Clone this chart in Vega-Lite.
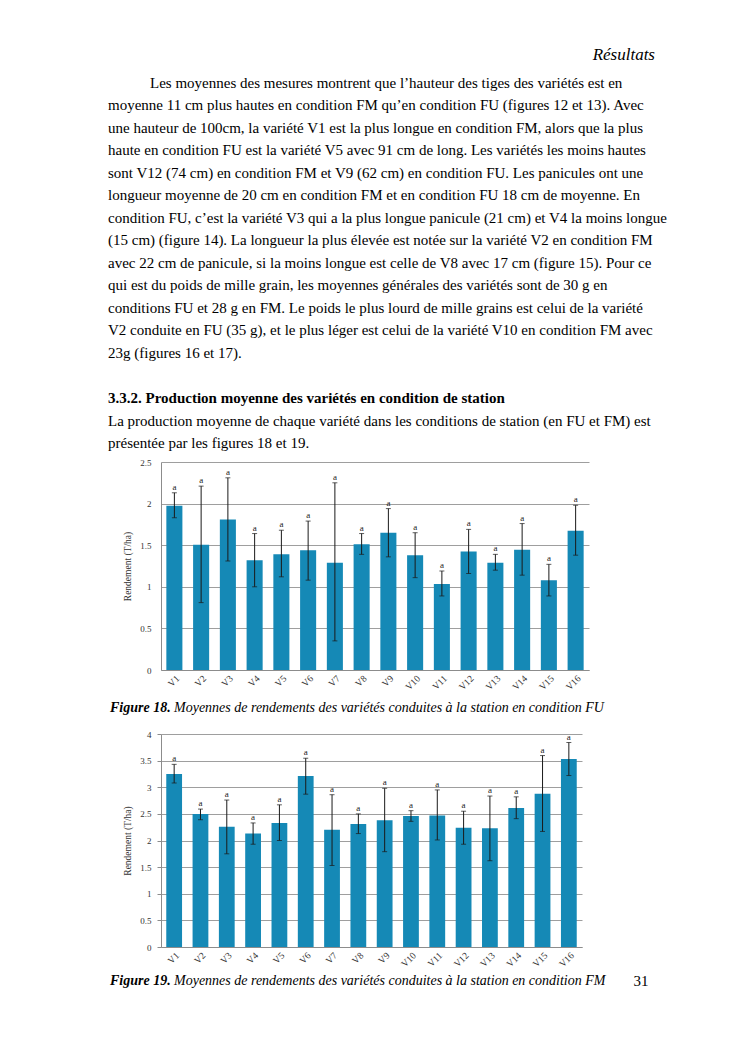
{
  "$schema": "https://vega.github.io/schema/vega-lite/v6.json",
  "padding": {"left": 108, "top": 40, "right": 20, "bottom": 20},
  "background": "white",
  "bounds": "flush",
  "spacing": 64,
  "config": {
    "view": {"stroke": null},
    "font": "Liberation Serif",
    "axis": {
      "labelFont": "Liberation Serif",
      "titleFont": "Liberation Serif",
      "labelFontSize": 9,
      "titleFontSize": 9.5,
      "titleFontWeight": "normal",
      "labelColor": "#333333",
      "titleColor": "#333333",
      "gridColor": "#9e9e9e",
      "domainColor": "#8c8c8c",
      "tickColor": "#8c8c8c",
      "labelOverlap": false
    }
  },
  "datasets": {
    "page": [
      {"line": 0, "kind": "header", "text": "Résultats"},
      {"line": 1, "kind": "indent", "text": "Les moyennes des mesures montrent que l’hauteur des tiges des variétés est en"},
      {"line": 2, "kind": "body", "text": "moyenne 11 cm plus hautes en condition FM qu’en condition FU (figures 12 et 13). Avec"},
      {"line": 3, "kind": "body", "text": "une hauteur de 100cm, la variété V1 est la plus longue en condition FM, alors que la plus"},
      {"line": 4, "kind": "body", "text": "haute en condition FU est la variété V5 avec 91 cm de long. Les variétés les moins hautes"},
      {"line": 5, "kind": "body", "text": "sont V12 (74 cm) en condition FM et V9 (62 cm) en condition FU. Les panicules ont une"},
      {"line": 6, "kind": "body", "text": "longueur moyenne de 20 cm en condition FM et en condition FU 18 cm de moyenne. En"},
      {"line": 7, "kind": "body", "text": "condition FU, c’est la variété V3 qui a la plus longue panicule (21 cm) et V4 la moins longue"},
      {"line": 8, "kind": "body", "text": "(15 cm) (figure 14). La longueur la plus élevée est notée sur la variété V2 en condition FM"},
      {"line": 9, "kind": "body", "text": "avec 22 cm de panicule, si la moins longue est celle de V8 avec 17 cm (figure 15). Pour ce"},
      {"line": 10, "kind": "body", "text": "qui est du poids de mille grain, les moyennes générales des variétés sont de 30 g en"},
      {"line": 11, "kind": "body", "text": "conditions FU et 28 g en FM. Le poids le plus lourd de mille grains est celui de la variété"},
      {"line": 12, "kind": "body", "text": "V2 conduite en FU (35 g), et le plus léger est celui de la variété V10 en condition FM avec"},
      {"line": 13, "kind": "body", "text": "23g (figures 16 et 17)."},
      {"line": 15, "kind": "heading", "text": "3.3.2. Production moyenne des variétés en condition de station"},
      {"line": 16, "kind": "body", "text": "La production moyenne de chaque variété dans les conditions de station (en FU et FM) est"},
      {"line": 17, "kind": "body", "text": "présentée par les figures 18 et 19."}
    ],
    "fu": [
      {"v": "V1", "mean": 1.975, "lo": 1.83, "hi": 2.13, "grp": "a"},
      {"v": "V2", "mean": 1.505, "lo": 0.81, "hi": 2.21, "grp": "a"},
      {"v": "V3", "mean": 1.81, "lo": 1.31, "hi": 2.31, "grp": "a"},
      {"v": "V4", "mean": 1.32, "lo": 1.0, "hi": 1.64, "grp": "a"},
      {"v": "V5", "mean": 1.39, "lo": 1.12, "hi": 1.68, "grp": "a"},
      {"v": "V6", "mean": 1.44, "lo": 1.08, "hi": 1.79, "grp": "a"},
      {"v": "V7", "mean": 1.29, "lo": 0.35, "hi": 2.25, "grp": "a"},
      {"v": "V8", "mean": 1.51, "lo": 1.39, "hi": 1.64, "grp": "a"},
      {"v": "V9", "mean": 1.65, "lo": 1.36, "hi": 1.94, "grp": "a"},
      {"v": "V10", "mean": 1.38, "lo": 1.11, "hi": 1.65, "grp": "a"},
      {"v": "V11", "mean": 1.035, "lo": 0.89, "hi": 1.19, "grp": "a"},
      {"v": "V12", "mean": 1.425, "lo": 1.16, "hi": 1.69, "grp": "a"},
      {"v": "V13", "mean": 1.29, "lo": 1.2, "hi": 1.39, "grp": "a"},
      {"v": "V14", "mean": 1.445, "lo": 1.14, "hi": 1.76, "grp": "a"},
      {"v": "V15", "mean": 1.08, "lo": 0.89, "hi": 1.27, "grp": "a"},
      {"v": "V16", "mean": 1.675, "lo": 1.38, "hi": 1.98, "grp": "a"}
    ],
    "fm": [
      {"v": "V1", "mean": 3.25, "lo": 3.08, "hi": 3.43, "grp": "a"},
      {"v": "V2", "mean": 2.5, "lo": 2.39, "hi": 2.59, "grp": "a"},
      {"v": "V3", "mean": 2.26, "lo": 1.75, "hi": 2.76, "grp": "a"},
      {"v": "V4", "mean": 2.13, "lo": 1.93, "hi": 2.33, "grp": "a"},
      {"v": "V5", "mean": 2.33, "lo": 2.0, "hi": 2.67, "grp": "a"},
      {"v": "V6", "mean": 3.21, "lo": 2.87, "hi": 3.545, "grp": "a"},
      {"v": "V7", "mean": 2.2, "lo": 1.53, "hi": 2.86, "grp": "a"},
      {"v": "V8", "mean": 2.31, "lo": 2.13, "hi": 2.5, "grp": "a"},
      {"v": "V9", "mean": 2.38, "lo": 1.79, "hi": 2.98, "grp": "a"},
      {"v": "V10", "mean": 2.46, "lo": 2.36, "hi": 2.56, "grp": "a"},
      {"v": "V11", "mean": 2.47, "lo": 2.01, "hi": 2.95, "grp": "a"},
      {"v": "V12", "mean": 2.24, "lo": 1.93, "hi": 2.55, "grp": "a"},
      {"v": "V13", "mean": 2.23, "lo": 1.62, "hi": 2.835, "grp": "a"},
      {"v": "V14", "mean": 2.61, "lo": 2.41, "hi": 2.82, "grp": "a"},
      {"v": "V15", "mean": 2.88, "lo": 2.17, "hi": 3.595, "grp": "a"},
      {"v": "V16", "mean": 3.53, "lo": 3.22, "hi": 3.84, "grp": "a"}
    ]
  },
  "vconcat": [
    {
      "width": 494,
      "height": 358,
      "data": {"name": "page"},
      "encoding": {
        "y": {"field": "line", "type": "quantitative", "scale": {"domain": [-0.911, 15.0], "reverse": true, "nice": false, "zero": false}, "axis": null},
        "text": {"field": "text"}
      },
      "layer": [
        {"transform": [{"filter": "datum.kind == 'header'"}], "mark": {"type": "text", "x": "width", "align": "right", "baseline": "middle", "dy": -5.5, "fontSize": 17, "fontStyle": "italic", "font": "Liberation Serif", "color": "#000000"}},
        {"transform": [{"filter": "datum.kind == 'indent'"}], "mark": {"type": "text", "x": 0, "align": "left", "baseline": "middle", "dx": -11, "fontSize": 15, "font": "Liberation Serif", "color": "#000000"}},
        {"transform": [{"filter": "datum.kind == 'body'"}], "mark": {"type": "text", "x": 0, "align": "left", "baseline": "middle", "dx": -53, "fontSize": 15, "font": "Liberation Serif", "color": "#000000"}},
        {"transform": [{"filter": "datum.kind == 'heading'"}], "mark": {"type": "text", "x": 0, "align": "left", "baseline": "middle", "dx": -53, "fontSize": 15, "fontWeight": "bold", "font": "Liberation Serif", "color": "#000000"}}
      ]
    },
    {
      "width": 428,
      "height": 208,
      "data": {"name": "fu"},
      "layer": [
        {
          "mark": {"type": "bar", "color": "#1589b6"},
          "encoding": {
            "x": {"field": "v", "type": "nominal", "sort": null, "scale": {"paddingInner": 0.4, "paddingOuter": 0.2}, "axis": {"title": null, "labelAngle": -45, "ticks": false, "labelPadding": 3, "grid": false, "labelFontSize": 9.5}},
            "y": {"field": "mean", "type": "quantitative", "title": "Rendement (T/ha)", "scale": {"domain": [0, 2.5], "nice": false}, "axis": {"values": [0, 0.5, 1, 1.5, 2, 2.5], "format": "~g", "ticks": false, "labelPadding": 10, "titlePadding": 7, "domain": true}}
          }
        },
        {
          "mark": {"type": "rule", "color": "#1a1a1a", "strokeWidth": 1},
          "encoding": {
            "x": {"field": "v", "type": "nominal", "sort": null},
            "y": {"field": "lo", "type": "quantitative", "title": "Rendement (T/ha)", "axis": {"values": [0, 0.5, 1, 1.5, 2, 2.5], "format": "~g", "ticks": false, "labelPadding": 10, "titlePadding": 7, "domain": true}},
            "y2": {"field": "hi"}
          }
        },
        {
          "mark": {"type": "tick", "color": "#1a1a1a", "size": 5, "thickness": 1},
          "encoding": {
            "x": {"field": "v", "type": "nominal", "sort": null},
            "y": {"field": "hi", "type": "quantitative", "title": "Rendement (T/ha)", "axis": {"values": [0, 0.5, 1, 1.5, 2, 2.5], "format": "~g", "ticks": false, "labelPadding": 10, "titlePadding": 7, "domain": true}}
          }
        },
        {
          "mark": {"type": "tick", "color": "#1a1a1a", "size": 5, "thickness": 1},
          "encoding": {
            "x": {"field": "v", "type": "nominal", "sort": null},
            "y": {"field": "lo", "type": "quantitative", "title": "Rendement (T/ha)", "axis": {"values": [0, 0.5, 1, 1.5, 2, 2.5], "format": "~g", "ticks": false, "labelPadding": 10, "titlePadding": 7, "domain": true}}
          }
        },
        {
          "mark": {"type": "text", "baseline": "bottom", "dy": -1, "fontSize": 9, "font": "Liberation Serif", "color": "#222222"},
          "encoding": {
            "x": {"field": "v", "type": "nominal", "sort": null},
            "y": {"field": "hi", "type": "quantitative", "title": "Rendement (T/ha)", "axis": {"values": [0, 0.5, 1, 1.5, 2, 2.5], "format": "~g", "ticks": false, "labelPadding": 10, "titlePadding": 7, "domain": true}},
            "text": {"field": "grp"}
          }
        },
        {
          "data": {"values": [{"label": "Figure 18."}]},
          "mark": {"type": "text", "x": 0, "y": "height", "dx": -51, "dy": 38, "align": "left", "baseline": "middle", "fontSize": 14, "fontStyle": "italic", "fontWeight": "bold", "font": "Liberation Serif", "color": "#000000"},
          "encoding": {"text": {"field": "label"}}
        },
        {
          "data": {"values": [{"label": "Moyennes de rendements des variétés conduites à la station en condition FU"}]},
          "mark": {"type": "text", "x": 0, "y": "height", "dx": 13, "dy": 38, "align": "left", "baseline": "middle", "fontSize": 14, "fontStyle": "italic", "font": "Liberation Serif", "color": "#000000"},
          "encoding": {"text": {"field": "label"}}
        }
      ]
    },
    {
      "width": 421,
      "height": 213,
      "data": {"name": "fm"},
      "layer": [
        {
          "mark": {"type": "bar", "color": "#1589b6"},
          "encoding": {
            "x": {"field": "v", "type": "nominal", "sort": null, "scale": {"paddingInner": 0.4, "paddingOuter": 0.2}, "axis": {"title": null, "labelAngle": -45, "ticks": false, "labelPadding": 3, "grid": false, "labelFontSize": 9.5}},
            "y": {"field": "mean", "type": "quantitative", "title": "Rendement (T/ha)", "scale": {"domain": [0, 4], "nice": false}, "axis": {"values": [0, 0.5, 1, 1.5, 2, 2.5, 3, 3.5, 4], "format": "~g", "ticks": true, "tickSize": 4, "labelPadding": 6, "titlePadding": 7, "domain": true}}
          }
        },
        {
          "mark": {"type": "rule", "color": "#1a1a1a", "strokeWidth": 1},
          "encoding": {
            "x": {"field": "v", "type": "nominal", "sort": null},
            "y": {"field": "lo", "type": "quantitative", "title": "Rendement (T/ha)", "axis": {"values": [0, 0.5, 1, 1.5, 2, 2.5, 3, 3.5, 4], "format": "~g", "ticks": true, "tickSize": 4, "labelPadding": 6, "titlePadding": 7, "domain": true}},
            "y2": {"field": "hi"}
          }
        },
        {
          "mark": {"type": "tick", "color": "#1a1a1a", "size": 5, "thickness": 1},
          "encoding": {
            "x": {"field": "v", "type": "nominal", "sort": null},
            "y": {"field": "hi", "type": "quantitative", "title": "Rendement (T/ha)", "axis": {"values": [0, 0.5, 1, 1.5, 2, 2.5, 3, 3.5, 4], "format": "~g", "ticks": true, "tickSize": 4, "labelPadding": 6, "titlePadding": 7, "domain": true}}
          }
        },
        {
          "mark": {"type": "tick", "color": "#1a1a1a", "size": 5, "thickness": 1},
          "encoding": {
            "x": {"field": "v", "type": "nominal", "sort": null},
            "y": {"field": "lo", "type": "quantitative", "title": "Rendement (T/ha)", "axis": {"values": [0, 0.5, 1, 1.5, 2, 2.5, 3, 3.5, 4], "format": "~g", "ticks": true, "tickSize": 4, "labelPadding": 6, "titlePadding": 7, "domain": true}}
          }
        },
        {
          "mark": {"type": "text", "baseline": "bottom", "dy": -1, "fontSize": 9, "font": "Liberation Serif", "color": "#222222"},
          "encoding": {
            "x": {"field": "v", "type": "nominal", "sort": null},
            "y": {"field": "hi", "type": "quantitative", "title": "Rendement (T/ha)", "axis": {"values": [0, 0.5, 1, 1.5, 2, 2.5, 3, 3.5, 4], "format": "~g", "ticks": true, "tickSize": 4, "labelPadding": 6, "titlePadding": 7, "domain": true}},
            "text": {"field": "grp"}
          }
        },
        {
          "data": {"values": [{"label": "Figure 19."}]},
          "mark": {"type": "text", "x": 0, "y": "height", "dx": -51, "dy": 34, "align": "left", "baseline": "middle", "fontSize": 14, "fontStyle": "italic", "fontWeight": "bold", "font": "Liberation Serif", "color": "#000000"},
          "encoding": {"text": {"field": "label"}}
        },
        {
          "data": {"values": [{"label": "Moyennes de rendements des variétés conduites à la station en condition FM"}]},
          "mark": {"type": "text", "x": 0, "y": "height", "dx": 13, "dy": 34, "align": "left", "baseline": "middle", "fontSize": 14, "fontStyle": "italic", "font": "Liberation Serif", "color": "#000000"},
          "encoding": {"text": {"field": "label"}}
        },
        {
          "data": {"values": [{"label": "31"}]},
          "mark": {"type": "text", "x": "width", "y": "height", "dx": 59, "dy": 34, "align": "center", "baseline": "middle", "fontSize": 15, "font": "Liberation Serif", "color": "#000000"},
          "encoding": {"text": {"field": "label"}}
        }
      ]
    }
  ]
}
